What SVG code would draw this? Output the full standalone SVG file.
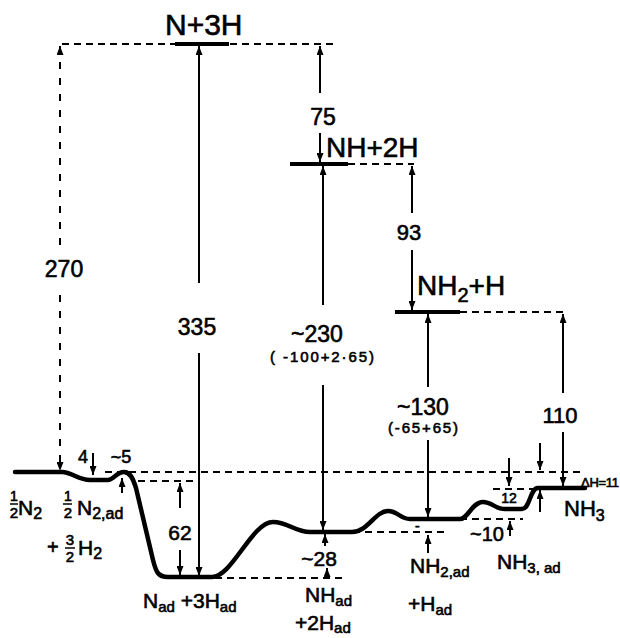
<svg xmlns="http://www.w3.org/2000/svg" width="620" height="638" viewBox="0 0 620 638">
<defs>
<marker id="ah" viewBox="0 0 9 7" refX="9" refY="3.5" markerWidth="9" markerHeight="7" markerUnits="userSpaceOnUse" orient="auto">
<path d="M0,0 L9,3.5 L0,7 z" fill="#000"/>
</marker>
<style>
.t{font-family:"Liberation Sans",Arial,sans-serif;fill:#000;stroke:#000;stroke-width:0.6}
.lv{stroke:#000;stroke-width:4;fill:none}
.ds{stroke:#000;stroke-width:2;stroke-dasharray:7 5;fill:none}
.ar{stroke:#000;stroke-width:2;fill:none;marker-end:url(#ah)}
.ad{stroke:#000;stroke-width:2;stroke-dasharray:7 9;fill:none;marker-end:url(#ah)}
.cv{stroke:#000;stroke-width:4.5;fill:none;stroke-linejoin:round;stroke-linecap:round}
.fb{stroke:#000;stroke-width:1.5}
.c{text-anchor:middle}
</style>
</defs>
<rect width="620" height="638" fill="#fff"/>

<g id="connectors">
<path class="ds" d="M62,44 H338"/>
<path class="ds" d="M348,164 H414"/>
<path class="ds" d="M460,312 H565"/>
<path class="ds" d="M105,472 H583"/>
<path class="ds" d="M138,481 H200"/>
<path class="ds" d="M215,578 H343"/>
<path class="ds" d="M353,532 H445"/>
<path class="ds" d="M460,519 H523"/>
<path class="ds" d="M493,489 H535"/>
<path class="ad" d="M60,245 V46"/>
<path class="ad" d="M60,295 V471"/>
<path class="ar" d="M199,283 V46"/>
<path class="ar" d="M199,353 V576"/>
<path class="ar" d="M320,93 V46"/>
<path class="ar" d="M320,133 V162"/>
<path class="ar" d="M323,305 V166"/>
<path class="ar" d="M323,385 V530"/>
<path class="ar" d="M412,213 V166"/>
<path class="ar" d="M412,250 V310"/>
<path class="ar" d="M428,387 V314"/>
<path class="ar" d="M428,440 V517"/>
<path class="ar" d="M428,553 V535"/>
<path class="ar" d="M563,393 V314"/>
<path class="ar" d="M563,432 V486"/>
<path class="ar" d="M180,508 V483"/>
<path class="ar" d="M180,550 V575"/>
<path class="ar" d="M93,453 V475"/>
<path class="ar" d="M122,493 V478"/>
<path class="ar" d="M325,546 V534"/>
<path class="ar" d="M327,578 V568"/>
<path class="ar" d="M509,458 V486"/>
<path class="ar" d="M510,536 V521"/>
<path class="ar" d="M540,443 V470"/>
<path class="ar" d="M540,512 V490"/>
</g>

<g id="profile">
<path class="cv" d="M15,472 L62,472 C72,472 78,480 90,480 L108,480 C114,480 116,472 124,472 C130,472 133,478 136,488 L153,560 C156,572 158,577 168,577 L212,577 C232,577 252,522 273,522 C288,522 295,532 310,532 L352,532 C368,532 375,511 388,511 C398,511 400,519 410,519 L460,519 C468,519 472,502 483,502 C492,502 495,509 505,509 L522,509 C530,509 530,488 538,488 L585,488"/>
</g>

<g id="n-N3H">
<path class="lv" d="M175,44 H229"/>
<text class="t" x="165" y="35" font-size="30">N+3H</text>
</g>

<g id="n-NH2H">
<path class="lv" d="M290,164 H348"/>
<text class="t" x="326" y="157" font-size="28">NH+2H</text>
</g>

<g id="n-NH2H1">
<path class="lv" d="M395,312 H460"/>
<text class="t" x="417" y="295" font-size="28">NH<tspan font-size="20" dy="7">2</tspan><tspan dy="-7">+H</tspan></text>
</g>

<g id="values">
<text class="t c" x="64" y="277" font-size="23">270</text>
<text class="t c" x="197" y="335" font-size="23">335</text>
<text class="t c" x="323" y="125" font-size="23">75</text>
<text class="t c" x="409" y="240" font-size="22">93</text>
<text class="t c" x="317" y="342" font-size="23">~230</text>
<text class="t" x="270" y="362" font-size="15" textLength="104">( -100+2·65)</text>
<text class="t c" x="423" y="415" font-size="23">~130</text>
<text class="t" x="388" y="433" font-size="15" textLength="70">(-65+65)</text>
<text class="t c" x="560" y="423" font-size="22">110</text>
<text class="t c" x="180" y="540" font-size="21">62</text>
<text class="t c" x="83" y="463" font-size="18">4</text>
<text class="t c" x="121" y="463" font-size="18">~5</text>
<text class="t c" x="319" y="566" font-size="21">~28</text>
<text class="t c" x="487" y="541" font-size="20">~10</text>
<text class="t c" x="509" y="503" font-size="14">12</text>
<text class="t" x="415" y="531" font-size="14">-</text>
<text class="t" x="581" y="487" font-size="13" textLength="38">ΔH=11</text>
</g>

<g id="n-N2">
<text class="t c" x="14" y="501" font-size="14">1</text>
<line class="fb" x1="10" y1="504" x2="18" y2="504"/>
<text class="t c" x="14" y="518" font-size="15">2</text>
<text class="t" x="18" y="515" font-size="21">N<tspan font-size="16" dy="4">2</tspan></text>
<text class="t" x="47" y="554" font-size="20">+</text>
<text class="t c" x="70" y="545" font-size="15">3</text>
<line class="fb" x1="65" y1="548" x2="75" y2="548"/>
<text class="t c" x="70" y="562" font-size="15">2</text>
<text class="t" x="78" y="555" font-size="21">H<tspan font-size="16" dy="4">2</tspan></text>
</g>

<g id="n-N2ad">
<text class="t c" x="68" y="501" font-size="14">1</text>
<line class="fb" x1="63" y1="504" x2="72" y2="504"/>
<text class="t c" x="68" y="518" font-size="15">2</text>
<text class="t" x="77" y="515" font-size="21">N<tspan font-size="16" dy="4">2,ad</tspan></text>
</g>

<g id="n-Nad">
<text class="t" x="143" y="608" font-size="21">N<tspan font-size="15" dy="4">ad</tspan><tspan dy="-4"> +3H</tspan><tspan font-size="15" dy="4">ad</tspan></text>
</g>

<g id="n-NHad">
<text class="t" x="305" y="602" font-size="21">NH<tspan font-size="15" dy="4">ad</tspan></text>
<text class="t" x="295" y="630" font-size="21">+2H<tspan font-size="15" dy="3">ad</tspan></text>
</g>

<g id="n-NH2ad">
<text class="t" x="410" y="573" font-size="21">NH<tspan font-size="15" dy="4">2,ad</tspan></text>
<text class="t" x="408" y="611" font-size="21">+H<tspan font-size="15" dy="4">ad</tspan></text>
</g>

<g id="n-NH3ad">
<text class="t" x="497" y="569" font-size="21">NH<tspan font-size="15" dy="4">3, ad</tspan></text>
</g>

<g id="n-NH3">
<text class="t" x="564" y="516" font-size="22">NH<tspan font-size="16" dy="5">3</tspan></text>
</g>
</svg>
